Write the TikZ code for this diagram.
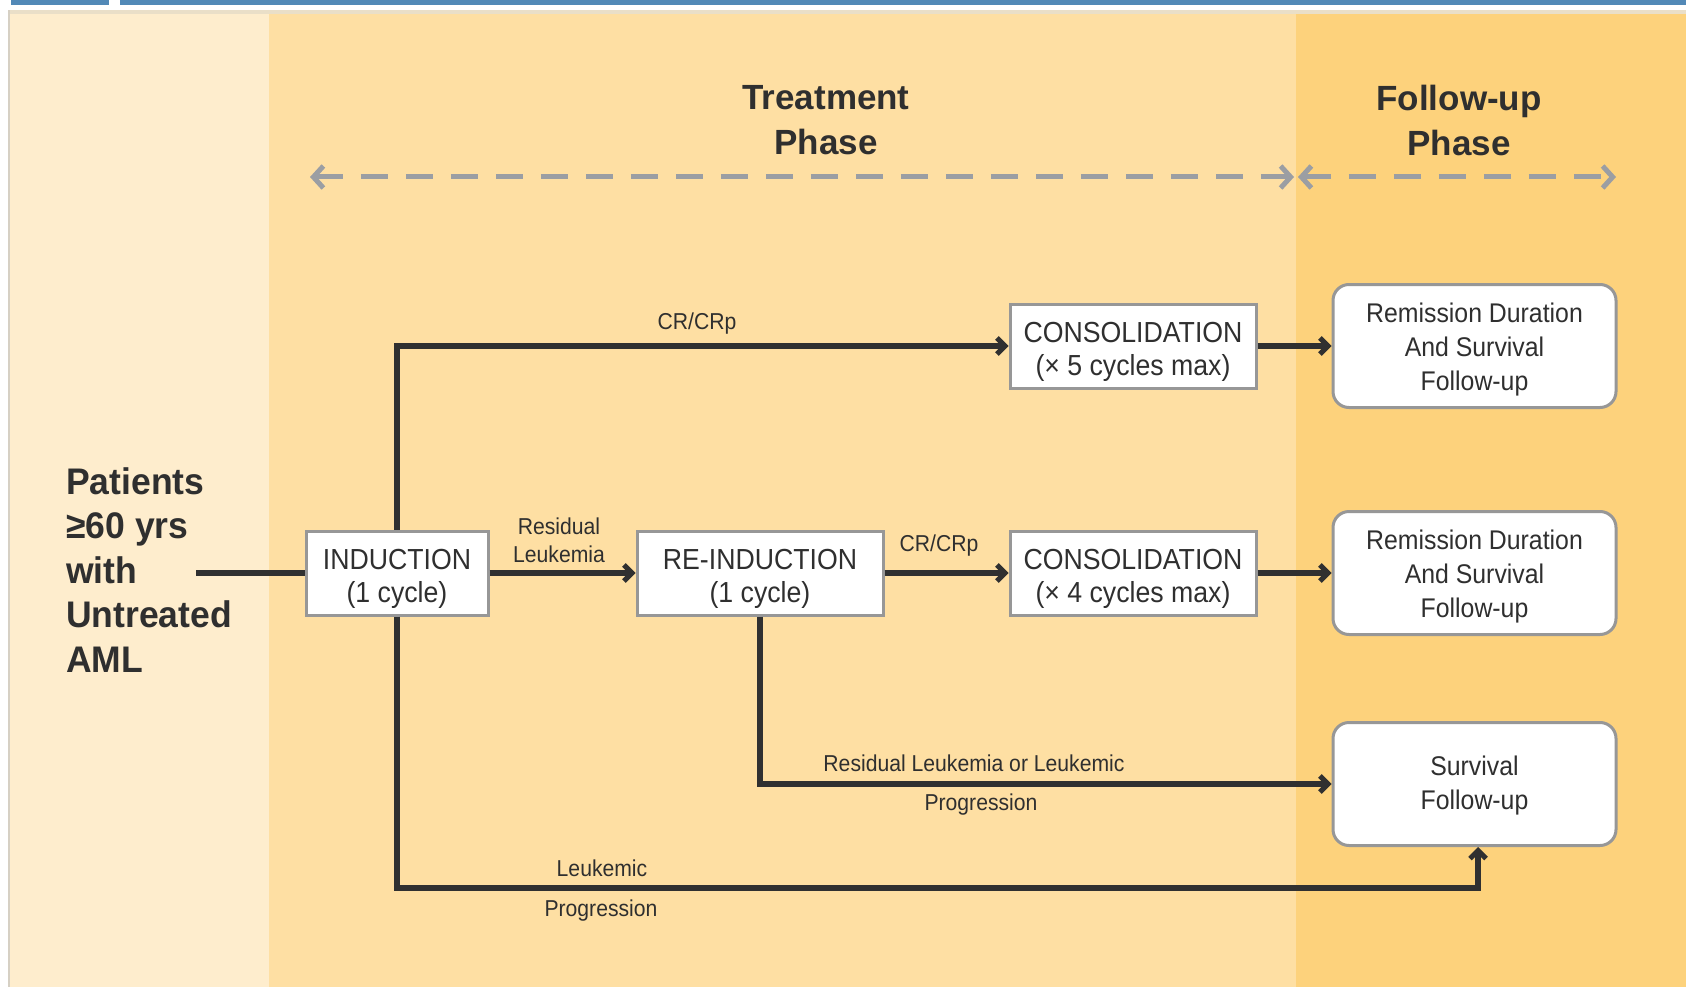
\documentclass[tikz,border=0pt]{standalone}
\usepackage{fontspec}
\setmainfont{Liberation Sans}
\newfontfamily\condfont[FakeStretch=0.92]{Liberation Sans}
\newfontfamily\patfont[FakeStretch=0.96]{Liberation Sans}
\usetikzlibrary{arrows.meta}
\newcommand\topstrut[1]{\rule{0pt}{#1}}
\definecolor{barblue}{HTML}{5289B7}
\definecolor{topline}{HTML}{EADFC8}
\definecolor{edgegray}{HTML}{D6D0C4}
\definecolor{panelA}{HTML}{FEEDCD}
\definecolor{panelB}{HTML}{FEDFA3}
\definecolor{panelC}{HTML}{FDD27C}
\definecolor{txt}{HTML}{2F2F2F}
\definecolor{conncol}{HTML}{303030}
\definecolor{boxline}{HTML}{979797}
\definecolor{dashgray}{HTML}{9B9EA3}
\tikzset{
  rectbox/.style={draw=boxline, line width=3pt, fill=white, text=txt,
    font=\condfont\fontsize{29}{33}\selectfont, align=center,
    minimum height=84pt, inner sep=0pt},
  roundbox/.style={rectbox, rounded corners=16pt, minimum width=283pt,
    minimum height=123pt, font=\condfont\fontsize{27}{34}\selectfont},
  lab/.style={text=txt, font=\condfont\fontsize{23}{28}\selectfont,
    align=center, inner sep=0pt},
  header/.style={text=txt, font=\bfseries\fontsize{35}{45}\selectfont,
    align=center, inner sep=0pt},
  connline/.style={draw=conncol, line width=6.5pt},
  conn/.style={connline, -{Straight Barb[length=8pt,width=16pt,line width=5pt]}},
  dasharrow/.style={draw=dashgray, line width=5pt, dash pattern=on 27pt off 18pt,
    {Straight Barb[length=10pt,width=22pt,line width=5pt]}-{Straight Barb[length=10pt,width=22pt,line width=5pt]}}
}
\begin{document}
\begin{tikzpicture}[x=1pt,y=-1pt]
\useasboundingbox (0,0) rectangle (1686,987);
% background
\fill[white] (0,0) rectangle (1686,987);
\fill[barblue] (11,0) rectangle (109,5);
\fill[barblue] (120,0) rectangle (1686,5);
\fill[topline] (8,10) rectangle (1686,14);
\fill[edgegray] (8,10) rectangle (10,987);
\fill[panelA] (10,14) rectangle (269,987);
\fill[panelB] (269,14) rectangle (1296,987);
\fill[panelC] (1296,14) rectangle (1686,987);

% headers
\node[header] (th) at (826,120) {Treatment\\Phase};
\node[header] (fh) at (1459,120) {Follow-up\\Phase};
\coordinate (t1) at (310,177);
\coordinate (t2) at (1294,177);
\coordinate (f1) at (1298,177);
\coordinate (f2) at (1616,177);
\draw[dasharrow] (t1) -- (t2);
\draw[dasharrow] (f1) -- (f2);

% patients
\node[text=txt, anchor=west, align=left, inner sep=0pt,
  font=\patfont\bfseries\fontsize{37}{44.5}\selectfont] (pat) at (66,570)
  {Patients\\≥60 yrs\\with\\Untreated\\AML};
\coordinate (patend) at (196,573);

% boxes
\node[rectbox, minimum width=182pt] (ind) at (397,573) {\topstrut{33pt}INDUCTION\\(1 cycle)};
\node[rectbox, minimum width=246pt] (reind) at (760,573) {\topstrut{33pt}RE-INDUCTION\\(1 cycle)};
\node[rectbox, minimum width=246pt] (c1) at (1133,346) {\topstrut{33pt}CONSOLIDATION\\(× 5 cycles max)};
\node[rectbox, minimum width=246pt] (c2) at (1133,573) {\topstrut{33pt}CONSOLIDATION\\(× 4 cycles max)};
\node[roundbox] (r1) at (1474.5,346) {\topstrut{26pt}Remission Duration\\And Survival\\Follow-up};
\node[roundbox] (r2) at (1474.5,573) {\topstrut{26pt}Remission Duration\\And Survival\\Follow-up};
\node[roundbox] (sv) at (1474.5,784) {\topstrut{23pt}Survival\\Follow-up};

% connectors
\draw[connline] (patend) -- (ind.west);
\draw[conn] (ind.north) |- (c1.west);
\draw[conn] (ind.east) -- (reind.west);
\draw[conn] (reind.east) -- (c2.west);
\draw[conn] (c1.east) -- (r1.west);
\draw[conn] (c2.east) -- (r2.west);
\draw[conn] (reind.south) |- (sv.west);
\coordinate (lp) at (1478,888);
\draw[conn] (ind.south) |- (lp) -- (lp |- sv.south);

% labels
\node[lab] (l1) at (697,324) {CR/CRp};
\node[lab] (l2) at (559,540) {Residual\\Leukemia};
\node[lab] (l3) at (939,546) {CR/CRp};
\node[lab] (l4) at (974,763) {Residual Leukemia or Leukemic};
\node[lab] (l5) at (981,805) {Progression};
\node[lab] (l6) at (602,868) {Leukemic};
\node[lab] (l7) at (601,911) {Progression};
\end{tikzpicture}
\end{document}
